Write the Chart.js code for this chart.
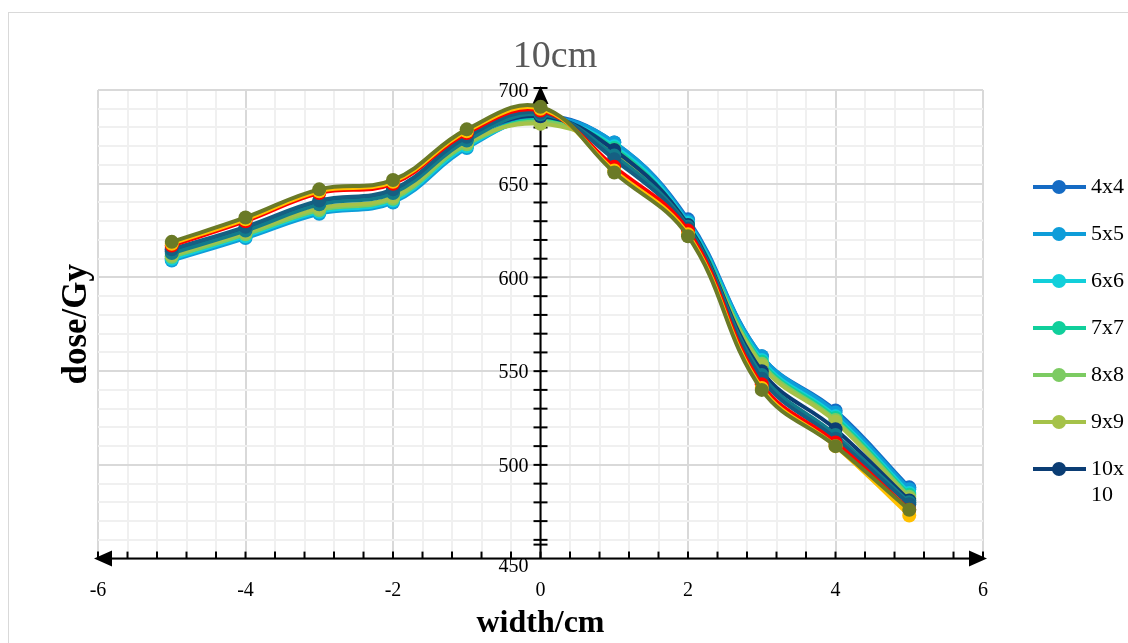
<!DOCTYPE html>
<html>
<head>
<meta charset="utf-8">
<script src="https://cdn.jsdelivr.net/npm/chart.js@4"></script>
<style>
  body { margin: 0; background: #fff; }
  #wrap { position: relative; width: 1128px; height: 643px; }
  #frame { position: absolute; left: 8px; top: 12px; width: 1140px; height: 660px; border: 1px solid #d9d9d9; }
  canvas { position: absolute; left: 0; top: 0; }
</style>
</head>
<body>
<div id="wrap">
  <div id="frame"></div>
  <canvas id="lineChart" width="1128" height="643"></canvas>
</div>
<script>
var widths = [-5, -4, -3, -2, -1, 0, 1, 2, 3, 4, 5];
var fieldNames = ["4x4", "5x5", "6x6", "7x7", "8x8", "9x9", "10x10", "11x11", "12x12", "13x13", "14x14", "15x15"];
var fieldColors = ["#156BC4", "#0E9DD9", "#12CFDA", "#10CF9B", "#7CCB62", "#A5C249", "#0B3D74", "#127B8B", "#155F82", "#FF0000", "#FFC000", "#6A7A26"];
var dose4 = [610, 622, 635, 641, 670, 686, 672, 631, 558, 529, 488];
var dose5 = [609, 621, 634, 640, 669, 685, 672, 630, 558, 528, 487];
var dose6 = [610, 622, 635, 641, 670, 684, 670, 629, 556, 526, 485];
var dose7 = [611, 623, 636, 642, 671, 684, 669, 628, 555, 525, 484];
var dose8 = [611, 623, 636, 642, 671, 683, 668, 627, 554, 524, 483];
var dose9 = [612, 624, 637, 643, 672, 682, 667, 627, 553, 523, 482];
var dose10 = [614, 626, 640, 646, 674, 686, 668, 628, 550, 519, 481];
var dose11 = [613, 625, 639, 645, 673, 687, 665, 627, 548, 516, 480];
var dose12 = [615, 627, 641, 647, 675, 688, 663, 626, 546, 514, 479];
var dose13 = [617, 630, 645, 650, 677, 689, 659, 625, 543, 512, 476];
var dose14 = [618, 631, 646, 651, 678, 690, 657, 623, 541, 510, 473];
var dose15 = [619, 632, 647, 652, 679, 691, 656, 622, 540, 510, 476];
var allDose = [dose4, dose5, dose6, dose7, dose8, dose9, dose10, dose11, dose12, dose13, dose14, dose15];
var yLabels = [450, 500, 550, 600, 650, 700];
var chartTitle = "10cm";
var legendCount = 7;

var canvas = document.getElementById("lineChart");
var ctx = canvas.getContext("2d");
var serif = "'Liberation Serif', 'DejaVu Serif', serif";

function populateData(xArr, yArr) {
  let arr = [];
  for (let i in xArr) {
    arr.push({ x: xArr[i], y: yArr[i] });
  }
  return arr;
}

var datasets = [];
for (var i = 0; i < allDose.length; i++) {
  datasets.push({
    label: fieldNames[i],
    data: populateData(widths, allDose[i]),
    borderColor: fieldColors[i],
    backgroundColor: fieldColors[i],
    pointBackgroundColor: fieldColors[i],
    pointBorderWidth: 0,
    pointRadius: 7,
    borderWidth: 4,
    tension: 0.4,
    order: allDose.length - i
  });
}

function isMajor(v, step) {
  return Math.abs(v / step - Math.round(v / step)) < 1e-6;
}

// axes with arrows, y labels next to the x = 0 axis, title and legend
var axesPlugin = {
  id: "axesPlugin",
  beforeDatasetsDraw(chart) {
    var c = chart.ctx, xs = chart.scales.x, ys = chart.scales.y;
    var x0 = xs.getPixelForValue(0);
    var yb = ys.getPixelForValue(450);
    var yt = ys.getPixelForValue(700);
    var xl = xs.getPixelForValue(-6), xr = xs.getPixelForValue(6);
    c.save();
    c.strokeStyle = "#000";
    c.fillStyle = "#000";
    c.lineWidth = 2;
    // x axis
    c.beginPath(); c.moveTo(xl, yb); c.lineTo(xr, yb); c.stroke();
    for (var v = -6; v <= 6.001; v += 0.4) {
      var px = xs.getPixelForValue(v);
      c.beginPath(); c.moveTo(px, yb); c.lineTo(px, yb - 7); c.stroke();
    }
    c.beginPath(); c.moveTo(xl - 4, yb); c.lineTo(xl + 14, yb - 8); c.lineTo(xl + 14, yb + 8); c.closePath(); c.fill();
    c.beginPath(); c.moveTo(xr + 4, yb); c.lineTo(xr - 14, yb - 8); c.lineTo(xr - 14, yb + 8); c.closePath(); c.fill();
    // y axis
    c.beginPath(); c.moveTo(x0, yb); c.lineTo(x0, yt); c.stroke();
    for (var w = 460; w <= 690; w += 10) {
      var py = ys.getPixelForValue(w);
      c.beginPath(); c.moveTo(x0 - 7, py); c.lineTo(x0 + 7, py); c.stroke();
    }
    c.beginPath(); c.moveTo(x0 - 7, yb - 14); c.lineTo(x0 + 7, yb - 14); c.stroke();
    c.beginPath(); c.moveTo(x0, yt - 4); c.lineTo(x0 - 8, yt + 14); c.lineTo(x0 + 8, yt + 14); c.closePath(); c.fill();
    c.beginPath(); c.moveTo(x0 - 7, yt - 2); c.lineTo(x0 + 7, yt - 2); c.stroke();
    // y labels
    c.font = "20px " + serif;
    c.textAlign = "right";
    c.textBaseline = "middle";
    for (var k = 0; k < yLabels.length; k++) {
      var ly = ys.getPixelForValue(yLabels[k]);
      if (yLabels[k] == 450) ly += 6;
      c.fillText(String(yLabels[k]), x0 - 12, ly + 2);
    }
    c.restore();
  },
  afterDraw(chart) {
    var c = chart.ctx;
    c.save();
    // title
    c.font = "38px " + serif;
    c.fillStyle = "#595959";
    c.textAlign = "center";
    c.textBaseline = "middle";
    c.fillText(chartTitle, 555, 57);
    // legend
    c.font = "22px " + serif;
    c.textAlign = "left";
    for (var i = 0; i < legendCount; i++) {
      var y = 187 + i * 47;
      c.strokeStyle = fieldColors[i];
      c.fillStyle = fieldColors[i];
      c.lineWidth = 4;
      c.beginPath(); c.moveTo(1033, y); c.lineTo(1086, y); c.stroke();
      c.beginPath(); c.arc(1059, y, 7, 0, Math.PI * 2); c.fill();
      c.fillStyle = "#000";
      if (fieldNames[i] == "10x10") {
        c.fillText("10x", 1091, y);
        c.fillText("10", 1091, y + 26);
      } else {
        c.fillText(fieldNames[i], 1091, y);
      }
    }
    c.restore();
  }
};

var config = {
  type: "line",
  data: { datasets: datasets },
  options: {
    responsive: false,
    animation: false,
    layout: { padding: { top: 90, left: 56, right: 145, bottom: 0 } },
    plugins: {
      legend: { display: false },
      tooltip: { enabled: false },
      title: { display: false }
    },
    scales: {
      x: {
        type: "linear",
        min: -6,
        max: 6,
        border: { display: false },
        grid: {
          drawTicks: false,
          lineWidth: 2,
          color: function (context) {
            return isMajor(context.tick.value, 2) ? "#d9d9d9" : "#f0f0f0";
          }
        },
        ticks: {
          stepSize: 0.4,
          autoSkip: false,
          maxRotation: 0,
          padding: 20,
          color: "#000",
          font: { family: serif, size: 20 },
          callback: function (value) {
            return isMajor(value, 2) ? String(Math.round(value)) : "";
          }
        },
        title: {
          display: true,
          text: "width/cm",
          color: "#000",
          font: { family: serif, size: 32, weight: "bold" },
          padding: { top: -18, bottom: 0 }
        }
      },
      y: {
        min: 450,
        max: 700,
        border: { display: false },
        grid: {
          drawTicks: false,
          lineWidth: 2,
          color: function (context) {
            return isMajor(context.tick.value, 50) ? "#d9d9d9" : "#f0f0f0";
          }
        },
        ticks: { display: false, stepSize: 10 },
        title: {
          display: true,
          text: "dose/Gy",
          color: "#000",
          font: { family: serif, size: 35, weight: "bold" },
          padding: { top: 0, bottom: 0 }
        }
      }
    }
  },
  plugins: [axesPlugin]
};

var chart = new Chart(canvas, config);
</script>
</body>
</html>
